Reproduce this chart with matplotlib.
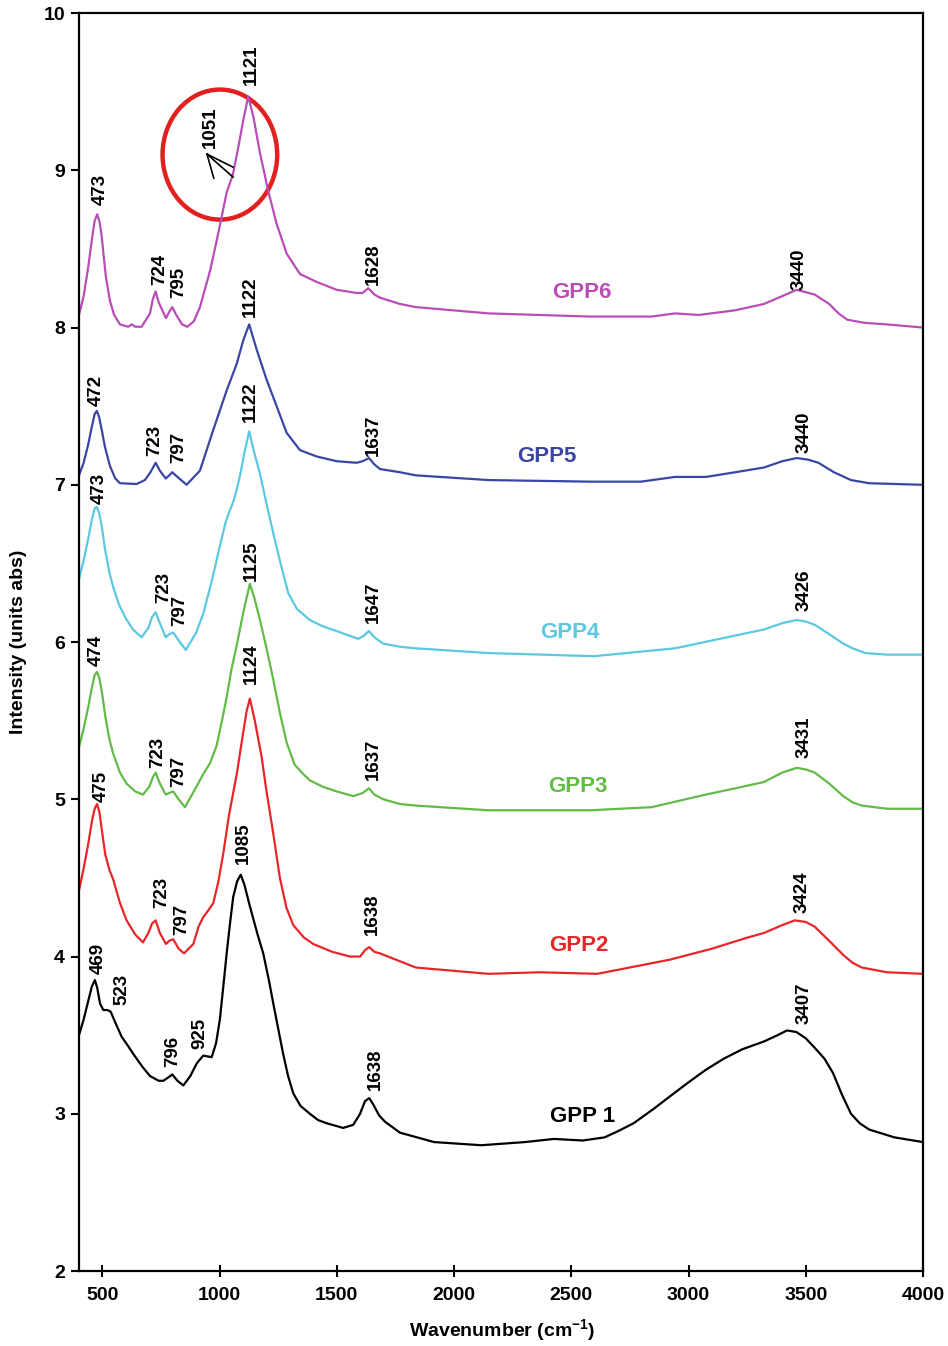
import numpy as np
import matplotlib
matplotlib.use("Agg")
import matplotlib.pyplot as plt
from matplotlib.patches import Ellipse

plt.rcParams['font.family'] = ['Liberation Sans', 'DejaVu Sans']
plt.rcParams['font.weight'] = 'bold'
plt.rcParams['mathtext.fontset'] = 'custom'
plt.rcParams['mathtext.rm'] = 'Liberation Sans:bold'
plt.rcParams['mathtext.bf'] = 'Liberation Sans:bold'

# spectra (wavenumber, intensity)
x6 = [400, 420, 440, 455, 467, 478, 488, 497, 505, 515, 532, 550, 575, 610, 625, 640, 667, 703,
      715, 727, 740, 771, 785, 798, 815, 840, 862, 890, 916, 959, 987, 1008, 1030, 1056, 1080,
      1101, 1122, 1144, 1172, 1207, 1243, 1286, 1343, 1414, 1499, 1584, 1610, 1634, 1660, 1684,
      1769, 1837, 2147, 2580, 2843, 2942, 3044, 3200, 3322, 3400, 3461, 3538, 3600, 3640, 3677,
      3750, 3846, 4000]
y6 = [8.08, 8.20, 8.39, 8.56, 8.68, 8.72, 8.67, 8.58, 8.46, 8.32, 8.17, 8.08, 8.02, 8.005, 8.02,
      8.005, 8.005, 8.09, 8.18, 8.23, 8.16, 8.06, 8.10, 8.13, 8.08, 8.02, 8.005, 8.04, 8.13, 8.36,
      8.55, 8.70, 8.86, 8.97, 9.15, 9.32, 9.47, 9.34, 9.11, 8.87, 8.66, 8.47, 8.34, 8.29, 8.24,
      8.22, 8.22, 8.25, 8.21, 8.19, 8.15, 8.13, 8.09, 8.07, 8.07, 8.09, 8.08, 8.11, 8.15, 8.20,
      8.24, 8.21, 8.15, 8.09, 8.05, 8.03, 8.02, 8.00]

x5 = [400, 420, 440, 455, 467, 476, 486, 497, 511, 532, 555, 575, 646, 681, 705, 727, 745, 770,
      785, 798, 820, 859, 916, 973, 1030, 1073, 1101, 1126, 1158, 1200, 1243, 1286, 1343, 1414,
      1499, 1584, 1610, 1637, 1660, 1684, 1769, 1837, 2147, 2580, 2797, 2942, 3074, 3200, 3322,
      3400, 3461, 3510, 3554, 3620, 3693, 3770, 4000]
y5 = [7.06, 7.14, 7.26, 7.37, 7.45, 7.47, 7.43, 7.35, 7.24, 7.12, 7.04, 7.01, 7.005, 7.03, 7.08,
      7.14, 7.09, 7.04, 7.06, 7.08, 7.05, 7.00, 7.09, 7.35, 7.60, 7.77, 7.92, 8.02, 7.86, 7.67,
      7.50, 7.33, 7.22, 7.18, 7.15, 7.14, 7.15, 7.17, 7.13, 7.10, 7.08, 7.06, 7.03, 7.02, 7.02,
      7.05, 7.05, 7.08, 7.11, 7.15, 7.17, 7.16, 7.14, 7.08, 7.03, 7.01, 7.00]

x4 = [400, 420, 440, 455, 467, 476, 486, 497, 510, 530, 546, 570, 600, 630, 667, 696, 712, 727,
      745, 770, 785, 802, 825, 856, 900, 930, 965, 1001, 1025, 1044, 1060, 1073, 1090, 1105,
      1126, 1145, 1172, 1200, 1229, 1260, 1293, 1330, 1385, 1440, 1499, 1591, 1615, 1637, 1660,
      1698, 1769, 1837, 2147, 2596, 2942, 3322, 3400, 3461, 3500, 3538, 3600, 3660, 3700, 3755,
      3846, 4000]
y4 = [6.40, 6.52, 6.66, 6.78, 6.85, 6.86, 6.82, 6.74, 6.60, 6.44, 6.35, 6.24, 6.15, 6.08, 6.03,
      6.09, 6.16, 6.19, 6.12, 6.03, 6.05, 6.06, 6.01, 5.95, 6.06, 6.18, 6.38, 6.61, 6.76, 6.84,
      6.90, 6.97, 7.08, 7.20, 7.34, 7.22, 7.07, 6.88, 6.69, 6.50, 6.31, 6.21, 6.14, 6.10, 6.07,
      6.02, 6.04, 6.07, 6.03, 5.99, 5.97, 5.96, 5.93, 5.91, 5.96, 6.08, 6.12, 6.14, 6.13, 6.11,
      6.05, 5.99, 5.96, 5.93, 5.92, 5.92]

x3 = [400, 420, 440, 455, 467, 477, 487, 498, 512, 530, 546, 575, 603, 640, 673, 700, 715, 727,
      745, 770, 785, 802, 825, 852, 901, 930, 959, 987, 1010, 1030, 1051, 1073, 1101, 1129, 1150,
      1172, 1200, 1229, 1257, 1286, 1320, 1357, 1385, 1440, 1499, 1570, 1610, 1637, 1660, 1698,
      1769, 1837, 2147, 2580, 2843, 3074, 3200, 3322, 3400, 3461, 3500, 3538, 3600, 3660, 3700,
      3739, 3846, 4000]
y3 = [5.33, 5.45, 5.59, 5.71, 5.79, 5.81, 5.77, 5.68, 5.53, 5.38, 5.29, 5.17, 5.10, 5.05, 5.03,
      5.08, 5.14, 5.17, 5.10, 5.03, 5.04, 5.05, 5.00, 4.95, 5.08, 5.16, 5.23, 5.34, 5.50, 5.65,
      5.83, 5.98, 6.19, 6.37, 6.27, 6.14, 5.96, 5.76, 5.55, 5.36, 5.22, 5.16, 5.12, 5.08, 5.05,
      5.02, 5.04, 5.07, 5.03, 5.00, 4.97, 4.96, 4.93, 4.93, 4.95, 5.03, 5.07, 5.11, 5.17, 5.20,
      5.19, 5.17, 5.10, 5.02, 4.98, 4.96, 4.94, 4.94]

x2 = [400, 420, 440, 455, 467, 477, 487, 498, 512, 530, 546, 575, 603, 640, 673, 696, 712, 727,
      745, 771, 785, 802, 825, 848, 888, 910, 930, 950, 973, 995, 1016, 1040, 1073, 1100, 1115,
      1129, 1150, 1179, 1200, 1229, 1257, 1285, 1314, 1360, 1399, 1480, 1556, 1599, 1620, 1638,
      1660, 1684, 1837, 2147, 2364, 2611, 2920, 3100, 3250, 3322, 3400, 3453, 3500, 3538, 3600,
      3660, 3700, 3739, 3846, 4000]
y2 = [4.42, 4.56, 4.72, 4.86, 4.94, 4.97, 4.92, 4.80, 4.65, 4.55, 4.49, 4.34, 4.23, 4.14, 4.09,
      4.15, 4.21, 4.23, 4.15, 4.08, 4.10, 4.11, 4.05, 4.02, 4.08, 4.19, 4.25, 4.29, 4.34, 4.48,
      4.66, 4.90, 5.16, 5.42, 5.56, 5.64, 5.50, 5.27, 5.05, 4.78, 4.50, 4.31, 4.20, 4.12, 4.08,
      4.03, 4.00, 4.00, 4.04, 4.06, 4.03, 4.02, 3.93, 3.89, 3.90, 3.89, 3.98, 4.05, 4.12, 4.15,
      4.20, 4.23, 4.22, 4.19, 4.10, 4.01, 3.96, 3.93, 3.90, 3.89]

x1 = [400, 420, 440, 455, 468, 478, 490, 504, 520, 535, 555, 582, 610, 632, 670, 703, 740, 760,
      780, 798, 820, 845, 875, 902, 930, 966, 985, 1001, 1015, 1030, 1045, 1058, 1075, 1090, 1105,
      1129, 1160, 1186, 1210, 1229, 1250, 1271, 1292, 1314, 1345, 1385, 1420, 1456, 1527, 1570,
      1599, 1620, 1638, 1655, 1680, 1705, 1769, 1915, 2116, 2302, 2426, 2549, 2642, 2700, 2766,
      2850, 2920, 3000, 3074, 3150, 3229, 3322, 3380, 3420, 3460, 3500, 3538, 3580, 3616, 3655,
      3693, 3730, 3770, 3878, 4000]
y1 = [3.50, 3.60, 3.72, 3.81, 3.85, 3.80, 3.70, 3.66, 3.66, 3.65, 3.58, 3.49, 3.43, 3.38, 3.30,
      3.24, 3.21, 3.21, 3.23, 3.25, 3.21, 3.18, 3.24, 3.32, 3.37, 3.36, 3.45, 3.60, 3.80, 4.02,
      4.22, 4.38, 4.48, 4.52, 4.46, 4.32, 4.15, 4.02, 3.85, 3.70, 3.54, 3.38, 3.24, 3.13, 3.05,
      3.00, 2.96, 2.94, 2.91, 2.93, 3.00, 3.08, 3.10, 3.06, 2.99, 2.95, 2.88, 2.82, 2.80, 2.82,
      2.84, 2.83, 2.85, 2.89, 2.94, 3.03, 3.11, 3.20, 3.28, 3.35, 3.41, 3.46, 3.50, 3.53, 3.52,
      3.48, 3.42, 3.35, 3.26, 3.12, 3.00, 2.94, 2.90, 2.85, 2.82]

names = ['GPP 1', 'GPP2', 'GPP3', 'GPP4', 'GPP5', 'GPP6']
colors = ['black', '#e8262a', '#62bb46', '#5bc8e2', '#3a45a6', '#b94db5']
xs = [x1, x2, x3, x4, x5, x6]
ys = [y1, y2, y3, y4, y5, y6]

# where the series names sit
name_pos = [(2550, 2.98), (2532, 4.07), (2528, 5.08), (2494, 6.06), (2396, 7.18), (2546, 8.22)]

# peak labels: (text, x, y of text bottom)
peak_labels = [
    [('469', 482, 3.89), ('523', 582, 3.69), ('796', 802, 3.30), ('925', 916, 3.41),
     ('1085', 1101, 4.59), ('1638', 1663, 3.15), ('3407', 3492, 3.57)],
    [('475', 496, 4.98), ('723', 752, 4.31), ('797', 838, 4.14), ('1124', 1137, 5.73),
     ('1638', 1650, 4.14), ('3424', 3484, 4.28)],
    [('474', 475, 5.85), ('723', 738, 5.20), ('797', 824, 5.08), ('1125', 1137, 6.39),
     ('1637', 1655, 5.12), ('3431', 3492, 5.26)],
    [('473', 487, 6.88), ('723', 760, 6.25), ('797', 831, 6.10), ('1122', 1129, 7.40),
     ('1647', 1655, 6.12), ('3426', 3492, 6.20)],
    [('472', 475, 7.50), ('723', 724, 7.18), ('797', 824, 7.14), ('1122', 1129, 8.07),
     ('1637', 1655, 7.18), ('3440', 3492, 7.20)],
    [('473', 490, 8.78), ('724', 743, 8.27), ('795', 824, 8.19), ('1121', 1137, 9.54),
     ('1628', 1655, 8.27), ('3440', 3473, 8.24)],
]

fig = plt.figure(figsize=(9.48, 13.46), dpi=100)
ax = fig.add_axes([0.0833, 0.0557, 0.8903, 0.9346])

for x, y, c, lbl, pos, peaks in zip(xs, ys, colors, names, name_pos, peak_labels):
    ax.plot(x, y, color=c, lw=1.6)
    ax.text(pos[0], pos[1], lbl, color=c, fontsize=16, fontweight='bold',
            ha='center', va='center')
    for t, px, py in peaks:
        ax.text(px, py, t, rotation=90, fontsize=13.5, fontweight='bold',
                ha='center', va='bottom')

# 1051 shoulder callout with the fan of lines and the red circle
ax.text(959, 9.14, '1051', rotation=90, fontsize=13.5, fontweight='bold',
        ha='center', va='bottom')
for ex, ey in [(1057, 9.02), (1057, 8.957), (975, 8.95)]:
    ax.plot([946, ex], [9.103, ey], color='black', lw=1.2)
ax.add_patch(Ellipse((1001, 9.10), 489, 0.827, fill=False, edgecolor='#e2201f', lw=3.2))

ax.set_xlim(400, 4000)
ax.set_ylim(2, 10)
ax.set_xticks(np.arange(500, 4001, 500))
ax.set_yticks(np.arange(2, 11, 1))
ax.tick_params(axis='x', direction='inout', length=9, width=1.5, labelsize=14, pad=7)
ax.tick_params(axis='y', direction='out', length=6, width=1.5, labelsize=14, pad=4)
for lab in ax.get_xticklabels() + ax.get_yticklabels():
    lab.set_fontweight('bold')
for s in ax.spines.values():
    s.set_linewidth(1.6)

ax.set_xlabel(r'Wavenumber (cm$^{-1}$)', fontsize=14, fontweight='bold')
ax.set_ylabel('Intensity (units abs)', fontsize=14, fontweight='bold')
ax.xaxis.set_label_coords(0.501, -0.037)
ax.yaxis.set_label_coords(-0.061, 0.5)

fig.savefig('out.png', dpi=100)
